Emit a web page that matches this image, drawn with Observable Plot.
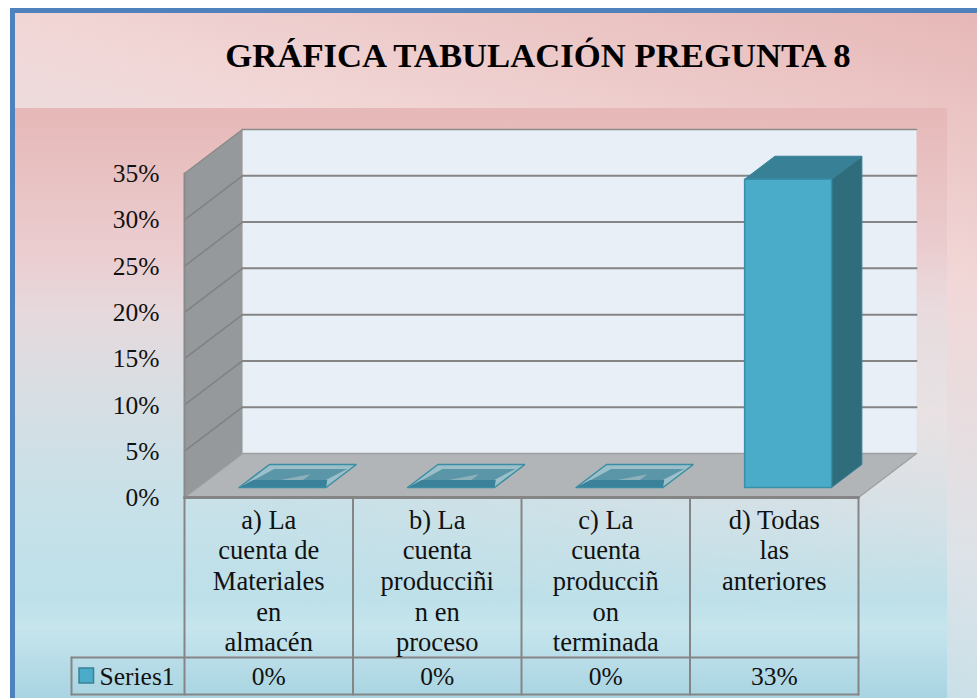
<!DOCTYPE html>
<html>
<head>
<meta charset="utf-8">
<script src="https://cdn.jsdelivr.net/npm/d3@7"></script>
<script src="https://cdn.jsdelivr.net/npm/@observablehq/plot@0.6"></script>
<style>
html,body{margin:0;padding:0;background:#fff;overflow:hidden}
#frame{position:absolute;left:10px;top:8px;width:967px;height:690px;box-sizing:border-box;border-left:5px solid #4f81bd;border-top:5px solid #4f81bd;background:linear-gradient(195deg,#e6b8b7 0%,#f2d8d8 30%,#dde3e8 58%,#b7dde8 88%,#b7dde8 100%)}
#area{position:absolute;left:15px;top:108px;width:932px;height:590px;background:linear-gradient(180deg,#e6b8b7 0%,#ebcdd0 24.6%,#e6d8dc 34.3%,#d9dee2 47%,#cde0e7 60%,#c6e1e9 70%,#bde0e9 83%,#c6e5ed 88%,#a9d4e2 100%)}
#tint{position:absolute;left:15px;top:108px;width:932px;height:590px;background:linear-gradient(90deg,rgba(242,226,226,0) 25%,rgba(242,226,226,.7) 100%);-webkit-mask-image:linear-gradient(180deg,transparent 22%,#000 52%,transparent 85%);mask-image:linear-gradient(180deg,transparent 22%,#000 52%,transparent 85%)}
#chart{position:absolute;left:0;top:0}
#chart svg{background:transparent}
</style>
</head>
<body>
<div id="frame"></div>
<div id="area"></div>
<div id="tint"></div>
<div id="chart"></div>
<script>
const chartTitle = "GRÁFICA TABULACIÓN PREGUNTA 8";
const categories = [
  "a) La\ncuenta de\nMateriales\nen\nalmacén",
  "b) La\ncuenta\nproducciñi\nn en\nproceso",
  "c) La\ncuenta\nproducciñ\non\nterminada",
  "d) Todas\nlas\nanteriores"
];
const seriesName = "Series1";
const values = [0, 0, 0, 33.3];
const tableLabels = ["0%", "0%", "0%", "33%"];
const yTicks = [0, 5, 10, 15, 20, 25, 30, 35];
const gridTicks = [5, 10, 15, 20, 25, 30];

// Scales: x in category units, y in percent; the oblique depth is a shift in those same units.
const W = 977, H = 698;
const catW = 168.5, pct = 9.257, x0 = 184, y0 = 497;
const depthX = 58 / catW, depthY = 44 / pct;
const n = categories.length;
const xDomain = [-x0 / catW, (W - x0) / catW];
const yDomain = [(y0 - H) / pct, y0 / pct];
const P = (c, v, d = 0) => ({x: c + d * depthX, y: v + d * depthY});
const rowY = px => (y0 - px) / pct;        // table rows sit below the value axis
const poly = (pts, o) => Plot.line([...pts, pts[0]], {x: "x", y: "y", fill: o.fill, stroke: o.stroke ?? "none", strokeWidth: o.sw ?? 0, strokeLinejoin: "miter", fillOpacity: o.fo ?? 1});
const seg = (a, b, o = {}) => Plot.line([a, b], {x: "x", y: "y", stroke: o.stroke ?? "#858585", strokeWidth: o.sw ?? 2});

const marks = [];
const maxV = 35;
// walls and floor
marks.push(poly([P(0,0,1), P(n,0,1), P(n,maxV,1), P(0,maxV,1)], {fill: "#e8eff7"}));
marks.push(poly([P(0,0,0), P(0,0,1), P(0,maxV,1), P(0,maxV,0)], {fill: "#96999c"}));
marks.push(poly([P(0,0,0), P(n,0,0), P(n,0,1), P(0,0,1)], {fill: "#b2b5b8"}));
// gridlines
for (const t of gridTicks) {
  marks.push(seg(P(0,t,0), P(0,t,1), {stroke: "#7f8285", sw: 1.5}));
  marks.push(seg(P(0,t,1), P(n,t,1)));
}
marks.push(seg(P(0,maxV,1), P(n,maxV,1), {stroke: "#8a8a8a", sw: 1.5}));
marks.push(seg(P(0,maxV,0), P(0,maxV,1), {stroke: "#8a8a8a", sw: 1.5}));
marks.push(seg(P(0,0,0), P(0,0,1), {stroke: "#9a9a9a", sw: 1.5}));
marks.push(seg(P(0,0,1), P(n,0,1), {stroke: "#a0a0a0", sw: 1.5}));
marks.push(seg(P(n,0,0), P(n,0,1), {stroke: "#a0a0a0", sw: 1.5}));
marks.push(seg(P(0,0,0), P(0,maxV,0), {stroke: "#8a8a8a", sw: 2}));

// bars
const bw = 0.516, d0 = 0.227, d1 = 0.75;
values.forEach((v, i) => {
  const a = i + (1 - bw) / 2 + 0.004, b = a + bw, m = "#3a8da3";
  if (v > 0) {
    marks.push(poly([P(b,0,d0), P(b,0,d1), P(b,v,d1), P(b,v,d0)], {fill: "#2f6d7d", stroke: "#3a8096", sw: 1}));
    marks.push(poly([P(a,v,d0), P(b,v,d0), P(b,v,d1), P(a,v,d1)], {fill: "#378096", stroke: "#3a8096", sw: 1}));
    marks.push(poly([P(a,0,d0), P(b,0,d0), P(b,v,d0), P(a,v,d0)], {fill: "#4aacc8", stroke: "#3a8fa8", sw: 1.5}));
  } else {
    const w = bw;
    marks.push(poly([P(a,v,d0), P(b,v,d0), P(b,v,d1), P(a,v,d1)], {fill: "#9cc0ca"}));
    marks.push(poly([P(a+w*.02,v,d0+.03), P(b-w*.16,v,d0+.03), P(b-w*.04,v,d1-.1), P(a+w*.12,v,d1-.1)], {fill: "#5b95a8"}));
    marks.push(poly([P(a,v,d0), P(b,v,d0), P(b-w*.10,v,d0+.17), P(a+w*.05,v,d0+.17)], {fill: "#3a8199"}));
    marks.push(poly([P(a+w*.36,v,d0+.17), P(a+w*.62,v,d0+.17), P(a+w*.62,v,d0+.3)], {fill: "#8db0bb"}));
    marks.push(poly([P(a,v,d0), P(b,v,d0), P(b,v,d1), P(a,v,d1)], {fill: "none", stroke: m, sw: 1.5}));
  }
});

// data table
const legendLeft = -113 / catW, rowTop = rowY(657), rowBottom = rowY(694);
marks.push(seg(P(0,0), P(n,0), {stroke: "#858585", sw: 3}));
for (let i = 0; i <= n; i++) marks.push(seg(P(i,0), P(i,rowBottom)));
marks.push(seg(P(legendLeft,rowTop), P(n,rowTop)));
marks.push(seg(P(legendLeft,rowBottom), P(n,rowBottom)));
marks.push(seg(P(legendLeft,rowTop), P(legendLeft,rowBottom)));

// legend key
marks.push(Plot.rect([seriesName], {
  x1: () => (79 - x0) / catW, x2: () => (93.5 - x0) / catW,
  y1: () => rowY(668), y2: () => rowY(683),
  fill: "#4aacc8", stroke: "#3a8198", strokeWidth: 1.5, inset: 0
}));

const font = {fontFamily: "'Liberation Serif','Times New Roman',serif", fill: "#111"};
marks.push(Plot.text(yTicks, {x: () => -25 / catW, y: d => d, dy: 0.5, text: d => d + "%", textAnchor: "end", fontSize: 25.5, ...font}));
marks.push(Plot.text(categories, {x: (d, i) => i + 0.5, y: () => rowY(506.5), text: d => d, lineAnchor: "top", lineHeight: 1.155, fontSize: 26.5, ...font}));
marks.push(Plot.text(tableLabels, {x: (d, i) => i + 0.5, y: () => rowY(676), text: d => d, fontSize: 25.5, ...font}));
marks.push(Plot.text([seriesName], {x: () => (99 - x0) / catW, y: () => rowY(676), text: d => d, textAnchor: "start", fontSize: 25.5, ...font}));
marks.push(Plot.text([chartTitle], {x: () => (537.5 - x0) / catW, y: () => rowY(55), text: d => d, fontSize: 34.7, fontWeight: "bold", ...font, fill: "#000"}));

const plot = Plot.plot({
  width: W, height: H, margin: 0,
  x: {type: "linear", domain: xDomain, range: [0, W], axis: null},
  y: {type: "linear", domain: yDomain, range: [H, 0], axis: null},
  marks
});
document.getElementById("chart").append(plot);
</script>
</body>
</html>
